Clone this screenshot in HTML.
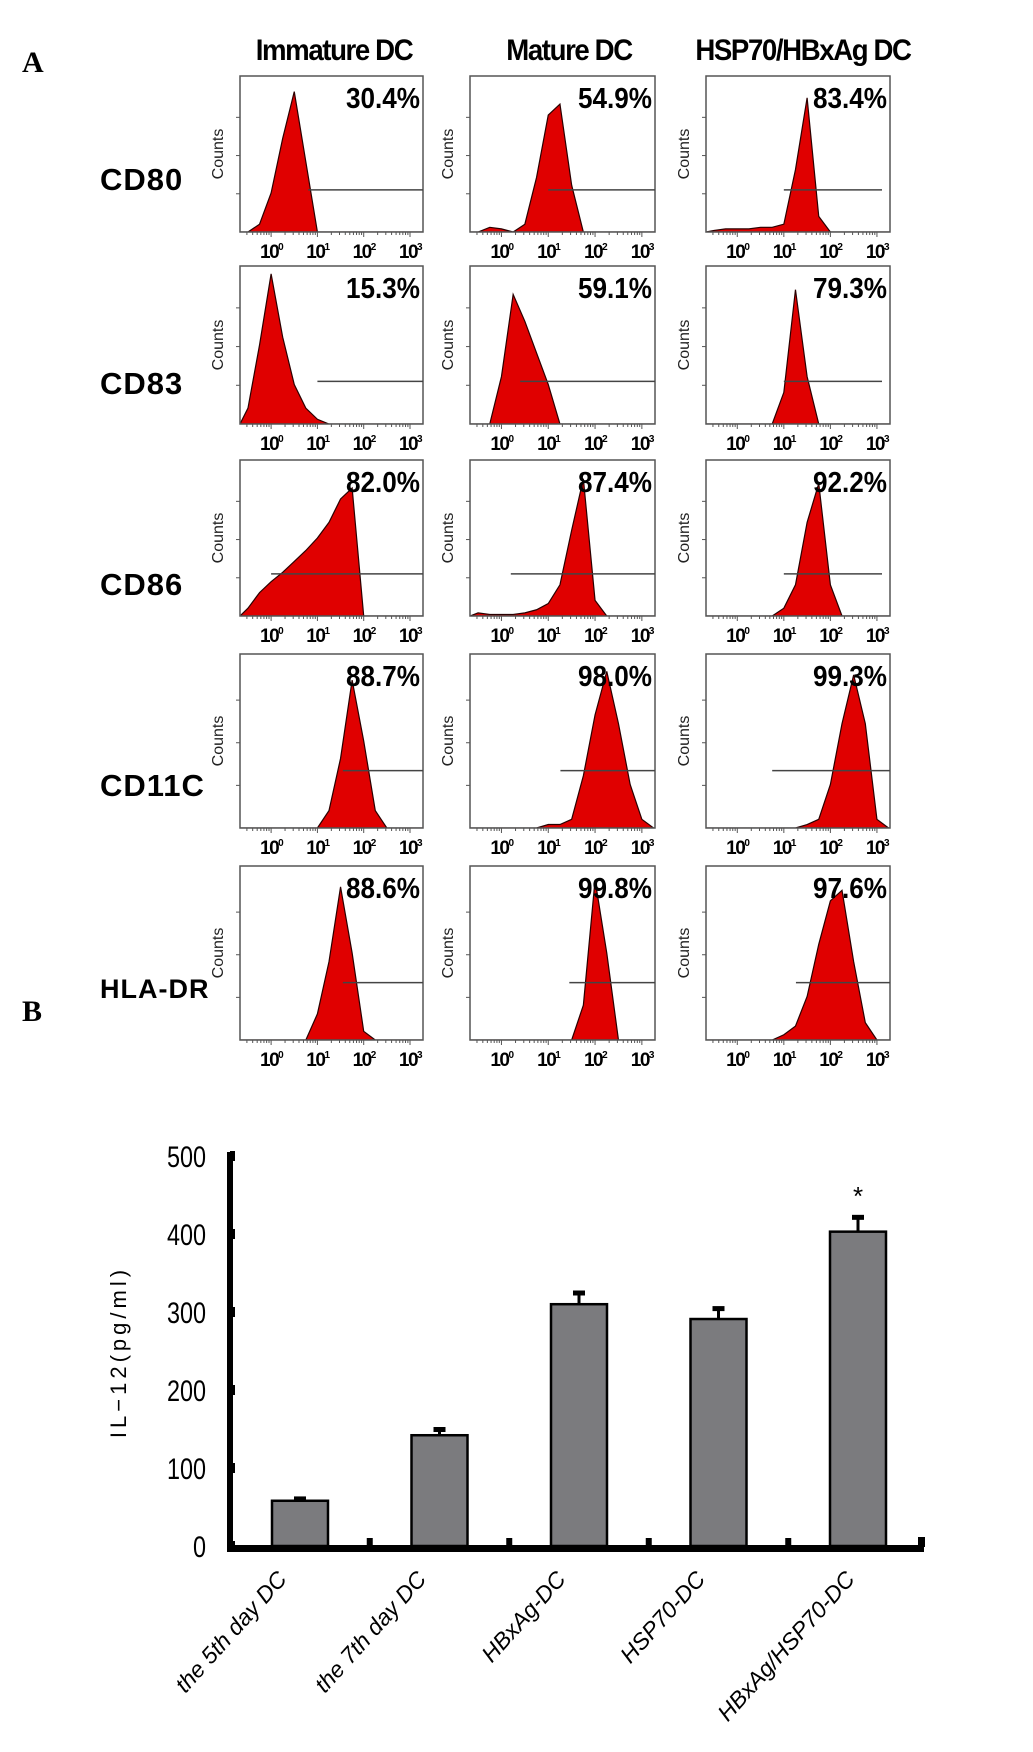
<!DOCTYPE html>
<html><head><meta charset="utf-8"><style>
html,body{margin:0;padding:0;background:#fff;}
svg{display:block;}
</style></head><body>
<svg id="fig" width="1033" height="1752" viewBox="0 0 1033 1752" xmlns="http://www.w3.org/2000/svg">
<text x="22" y="72" font-family="Liberation Serif,serif" font-weight="bold" font-size="30">A</text>
<text x="22" y="1021" font-family="Liberation Serif,serif" font-weight="bold" font-size="30">B</text>
<g id="flow"></g>
<g id="bars"></g>
</svg>
<script>
// ---------- Flow cytometry data ----------
const colNames = ["Immature DC","Mature DC","HSP70/HBxAg DC"];
const rowNames = ["CD80","CD83","CD86","CD11C","HLA-DR"];
const binLogs = [-0.75,-0.5,-0.25,0,0.25,0.5,0.75,1,1.25,1.5,1.75,2,2.25,2.5,2.75,3,3.25];
const percents = [
 ["30.4%","54.9%","83.4%"],
 ["15.3%","59.1%","79.3%"],
 ["82.0%","87.4%","92.2%"],
 ["88.7%","98.0%","99.3%"],
 ["88.6%","99.8%","97.6%"]];
const hist = [
 [[0,0,0.05,0.25,0.6,0.9,0.45,0,0,0,0,0,0,0,0,0,0],
  [0,0,0.03,0.02,0,0.05,0.35,0.75,0.82,0.3,0,0,0,0,0,0,0],
  [0,0.01,0.02,0.02,0.02,0.03,0.03,0.05,0.4,0.86,0.1,0,0,0,0,0,0]],
 [[0,0.1,0.5,0.95,0.55,0.25,0.1,0.03,0,0,0,0,0,0,0,0,0],
  [0,0,0,0.3,0.82,0.65,0.45,0.25,0,0,0,0,0,0,0,0,0],
  [0,0,0,0,0,0,0,0.2,0.85,0.3,0,0,0,0,0,0,0]],
 [[0,0.05,0.15,0.22,0.28,0.35,0.42,0.5,0.6,0.75,0.82,0,0,0,0,0,0],
  [0,0.02,0.01,0.01,0.01,0.02,0.04,0.08,0.2,0.55,0.88,0.1,0,0,0,0,0],
  [0,0,0,0,0,0,0,0.05,0.2,0.6,0.85,0.2,0,0,0,0,0]],
 [[0,0,0,0,0,0,0,0,0.1,0.4,0.85,0.5,0.1,0,0,0,0],
  [0,0,0,0,0,0,0,0.02,0.02,0.05,0.3,0.65,0.9,0.6,0.25,0.05,0],
  [0,0,0,0,0,0,0,0,0,0.02,0.05,0.25,0.6,0.88,0.6,0.05,0]],
 [[0,0,0,0,0,0,0,0.15,0.45,0.88,0.5,0.05,0,0,0,0,0],
  [0,0,0,0,0,0,0,0,0,0,0.2,0.92,0.5,0,0,0,0],
  [0,0,0,0,0,0,0,0.03,0.08,0.25,0.55,0.8,0.86,0.45,0.1,0,0]]];
const gateStart = [[0.8,1.0,1.0],[1.0,0.4,1.0],[0,0.2,1.0],[1.55,1.26,0.75],[1.55,1.45,1.26]];
const gateLevel = [[0.27,0.27,0.27],[0.27,0.27,0.27],[0.27,0.27,0.27],[0.33,0.33,0.33],[0.33,0.33,0.33]];
const decadeLabels = ["0","1","2","3"];

const NS="http://www.w3.org/2000/svg";
function mk(tag,attrs,parent,txt){const e=document.createElementNS(NS,tag);for(const k in attrs)e.setAttribute(k,attrs[k]);if(txt!==undefined)e.textContent=txt;parent.appendChild(e);return e;}

const colX=[[240,423],[470,655],[706,890]];
const rowY=[[76,232],[266,424],[460,616],[654,828],[866,1040]];
const flow=document.getElementById('flow');
const colCenters=[334,569,803];
colNames.forEach((n,i)=>{
  const t=mk('text',{x:colCenters[i],y:60,'text-anchor':'middle','font-family':'Liberation Sans,sans-serif','font-weight':'bold','font-size':'30',transform:`translate(${colCenters[i]},0) scale(0.92,1) translate(${-colCenters[i]},0)`,'letter-spacing':'-1.5'},flow,n);
  
  
});
const rowLabelY=[190,394,595,796,998];
rowNames.forEach((n,r)=>{
  const t=mk('text',{x:100,y:rowLabelY[r],'font-family':'Liberation Sans,sans-serif','font-weight':'bold','font-size':r==4?'27':'31','letter-spacing':'1'},flow,n);
  
  
});
for(let r=0;r<5;r++){for(let c=0;c<3;c++){
  const [x0,x1]=colX[c],[y0,y1]=rowY[r];const W=x1-x0,H=y1-y0;
  const g=mk('g',{},flow);
  
  
  const xs=l=>x0+W*(0.17+0.253*l);
  const ys=v=>y1-H*v;
  let pts=[];const d=hist[r][c];
  binLogs.forEach((l,i)=>{let x=Math.max(x0,Math.min(x1,xs(l)));pts.push(x+','+ys(d[i]));});
  pts.unshift(Math.max(x0,xs(binLogs[0]))+','+y1);pts.push(x1+','+y1);
  const cp=mk('clipPath',{id:`cp${r}${c}`},g);mk('rect',{x:x0,y:y0,width:W,height:H},cp);
  const poly=mk('polygon',{points:pts.join(' '),fill:'#e00000',stroke:'#2a0000','stroke-width':'1.2','clip-path':`url(#cp${r}${c})`},g);
  
  
  const bx=mk('rect',{x:x0,y:y0,width:W,height:H,fill:'none',stroke:'#555','stroke-width':'1.5'},g);
  
  
  for(let k=1;k<4;k++){mk('line',{x1:x0-4,x2:x0,y1:y1-H*k/4*0.98,y2:y1-H*k/4*0.98,stroke:'#555','stroke-width':'1'},g);}
  for(let dcd=-1;dcd<4;dcd++){for(let m=1;m<10;m++){const lx=xs(dcd+Math.log10(m));if(lx<x0||lx>x1)continue;mk('line',{x1:lx,x2:lx,y1:y1,y2:y1+(m==1?5:3),stroke:'#555','stroke-width':'1'},g);}}
  const gl=mk('line',{x1:xs(gateStart[r][c]),x2:x1-(c==2&&r<3?8:0),y1:ys(gateLevel[r][c]),y2:ys(gateLevel[r][c]),stroke:'#444','stroke-width':'1.5'},g);
  
  
  const cy=(y0+y1)/2,cx=x0-17;
  const ct=mk('text',{x:cx,y:cy,'text-anchor':'middle',transform:`rotate(-90 ${cx} ${cy})`,'font-family':'Liberation Sans,sans-serif','font-size':'16',fill:'#222'},g,'Counts');
  
  
  const pt=mk('text',{x:x1-3,y:y0+32,'text-anchor':'end','font-family':'Liberation Sans,sans-serif','font-weight':'bold','font-size':'29',transform:`translate(${x1-3},0) scale(0.9,1) translate(${-(x1-3)},0)`},g,percents[r][c]);
  
  
  decadeLabels.forEach((s,i)=>{
    const tx=xs(i);
    const t=mk('text',{x:tx,y:y1+26,'text-anchor':'middle','font-family':'Liberation Sans,sans-serif','font-weight':'bold','font-size':'19','letter-spacing':'-1.5'},g);
    
    
    mk('tspan',{},t,'10');mk('tspan',{dy:'-8','font-size':'10'},t,s);
  });
}}

// ---------- Bar chart data ----------
const categories = ["the 5th day DC","the 7th day DC","HBxAg-DC","HSP70-DC","HBxAg/HSP70-DC"];
const values = [58,142,310,291,403];
const errors = [3,8,15,14,19];
const yTicks = [0,100,200,300,400,500];
const significant = [false,false,false,false,true];

const bars=document.getElementById('bars');
const yBase=1546, yPer=0.78, axX=230, xStart=230, step=139.5, barW=56;
const yS=v=>yBase-v*yPer;
const xC=i=>xStart+70+i*step;
const ya=mk('rect',{x:axX-3,y:yS(500)-4,width:6,height:yBase-yS(500)+9},bars);


const xa=mk('rect',{x:axX-3,y:yBase-1,width:924-axX+3,height:7},bars);


mk('rect',{x:918,y:yBase-9,width:7,height:10},bars);
yTicks.forEach(v=>{
  mk('rect',{x:axX,y:yS(v)-5,width:5,height:10},bars);
  const t=mk('text',{x:206,y:yS(v)+11,'text-anchor':'end','font-family':'Liberation Sans,sans-serif','font-size':'30',transform:`translate(206,0) scale(0.78,1) translate(-206,0)`},bars,String(v));
  
  
});
for(let i=0;i<categories.length-1;i++){mk('rect',{x:xC(i)+step/2-3,y:yBase-8,width:6,height:8},bars);}
const yt=mk('text',{x:126,y:1352,'text-anchor':'middle',transform:'rotate(-90 126 1352)','font-family':'Liberation Sans,sans-serif','font-size':'22','letter-spacing':'4'},bars,'IL−12(pg/ml)');


values.forEach((v,i)=>{
  const cx=xC(i);
  const b=mk('rect',{x:cx-barW/2,y:yS(v),width:barW,height:yBase-yS(v),fill:'#7b7b7e',stroke:'#000','stroke-width':'2.5'},bars);
  
  
  const e=mk('line',{x1:cx,x2:cx,y1:yS(v),y2:yS(v+errors[i]),stroke:'#000','stroke-width':'3'},bars);
  
  
  mk('rect',{x:cx-6,y:yS(v+errors[i])-2,width:12,height:5},bars);
  if(significant[i]){const s=mk('text',{x:cx,y:yS(v+errors[i])-12,'text-anchor':'middle','font-family':'Liberation Sans,sans-serif','font-size':'26'},bars,'*');
    
    }
  const lx=cx-(i==4?2:12), ly=1580;
  const t=mk('text',{x:lx,y:ly,'text-anchor':'end',transform:`rotate(-48 ${lx} ${ly})`,'font-family':'Liberation Sans,sans-serif','font-style':'italic','font-size':'23'},bars,categories[i]);
  
  
});
</script>
</body></html>
